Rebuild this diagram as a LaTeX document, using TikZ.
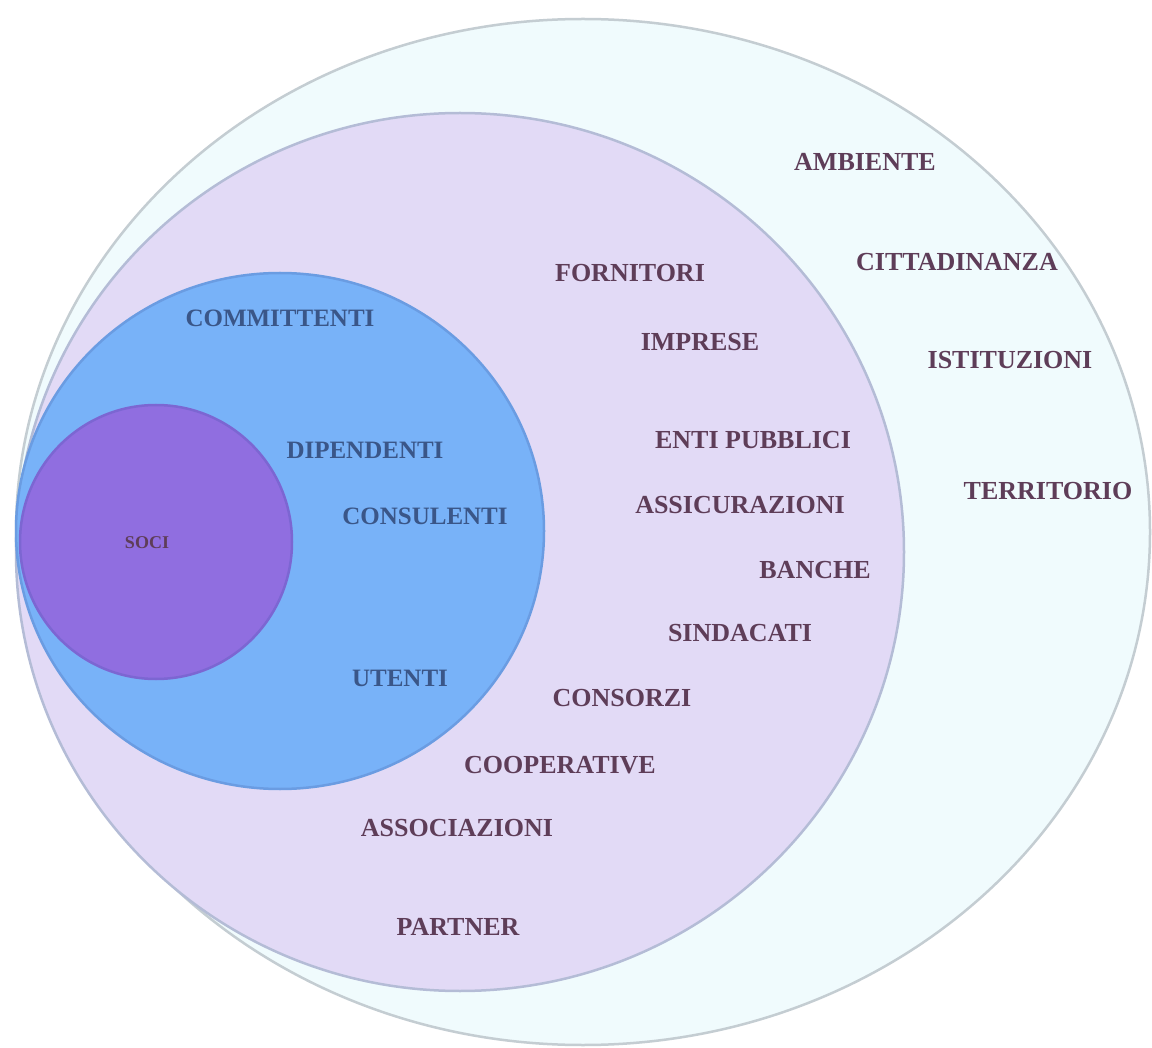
\documentclass[tikz,border=0pt]{standalone}
\usepackage{fontspec}
\setmainfont{Liberation Serif}
\usetikzlibrary{shapes.geometric}
\definecolor{outerfill}{HTML}{F0FBFD}
\definecolor{outerline}{HTML}{C4CDD2}
\definecolor{midfill}{HTML}{E2DAF6}
\definecolor{midline}{HTML}{B4BCD6}
\definecolor{bluefill}{HTML}{78B2F8}
\definecolor{blueline}{HTML}{6A9CE2}
\definecolor{purpfill}{HTML}{906EE0}
\definecolor{purpline}{HTML}{7C66D2}
\definecolor{plum}{HTML}{5E3D58}
\definecolor{navytxt}{HTML}{3A5688}
\tikzset{
  ring/.style={ellipse, inner sep=0pt, line width=2.5pt},
  lab/.style={font=\fontsize{26}{30}\selectfont\bfseries, text=plum, inner sep=0pt},
  bluelab/.style={font=\fontsize{25}{30}\selectfont\bfseries, text=navytxt, inner sep=0pt},
}
\begin{document}
\begin{tikzpicture}[x=1pt,y=-1pt]
\useasboundingbox[fill=white] (0,0) rectangle (1152,1048);
\node[ring, draw=outerline, fill=outerfill, minimum width=1134pt, minimum height=1026pt] (outer) at (583,532) {};
\node[ring, draw=midline, fill=midfill, minimum width=888pt, minimum height=878pt] (mid) at (460,552) {};
\node[ring, draw=blueline, fill=bluefill, minimum width=528pt, minimum height=516pt] (blue) at (280,531) {};
\node[ring, draw=purpline, fill=purpfill, minimum width=272pt, minimum height=274pt] (purp) at (156,542) {};
% outer ring labels
\node[lab] (ambiente) at (865,162) {AMBIENTE};
\node[lab] (citt) at (957,262) {CITTADINANZA};
\node[lab] (istit) at (1010,360) {ISTITUZIONI};
\node[lab] (terr) at (1048,491) {TERRITORIO};
% middle ring labels
\node[lab] (forn) at (630,273) {FORNITORI};
\node[lab] (impr) at (700,342) {IMPRESE};
\node[lab] (enti) at (753,440) {ENTI PUBBLICI};
\node[lab] (assic) at (740,505) {ASSICURAZIONI};
\node[lab] (banche) at (815,570) {BANCHE};
\node[lab] (sind) at (740,633) {SINDACATI};
\node[lab] (cons) at (622,698) {CONSORZI};
\node[lab] (coop) at (560,765) {COOPERATIVE};
\node[lab] (assoc) at (457,828) {ASSOCIAZIONI};
\node[lab] (partner) at (458,927) {PARTNER};
% blue circle labels
\node[bluelab] (comm) at (280,318) {COMMITTENTI};
\node[bluelab] (dip) at (365,450) {DIPENDENTI};
\node[bluelab] (consul) at (425,516) {CONSULENTI};
\node[bluelab] (utenti) at (400,678) {UTENTI};
% inner
\node[font=\fontsize{18}{20}\selectfont\bfseries, text=plum, inner sep=0pt] (soci) at (147,543) {SOCI};
\end{tikzpicture}
\end{document}
